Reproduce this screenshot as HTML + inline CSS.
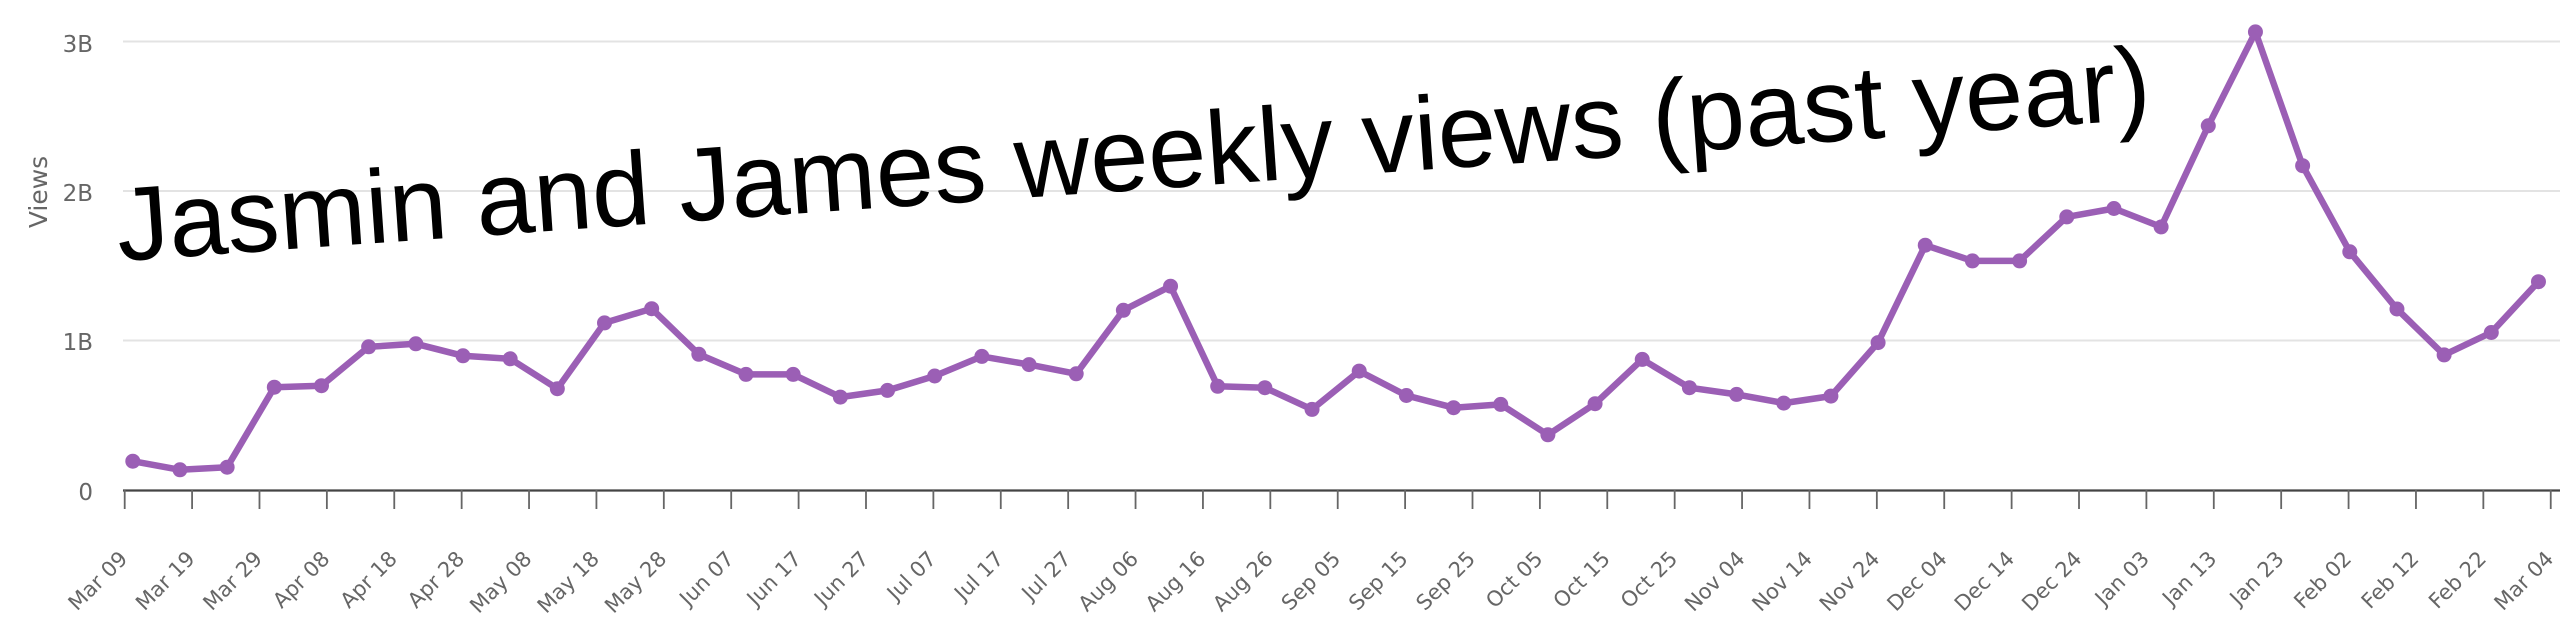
<!DOCTYPE html>
<html>
<head>
<meta charset="utf-8">
<style>
html,body{margin:0;padding:0;background:#fff;width:2560px;height:626px;overflow:hidden;}
svg{display:block;}
</style>
</head>
<body>
<svg width="2560" height="626" viewBox="0 0 2560 626" xmlns="http://www.w3.org/2000/svg">
<rect width="2560" height="626" fill="#fff"/>
<!-- grid -->
<g stroke="#e3e3e3" stroke-width="2">
<line x1="123" y1="41.5" x2="2560" y2="41.5"/>
<line x1="123" y1="191" x2="2560" y2="191"/>
<line x1="123" y1="340.5" x2="2560" y2="340.5"/>
</g>
<!-- y labels -->
<g font-family="'DejaVu Sans','Liberation Sans',sans-serif" font-size="23" fill="#666" text-anchor="end">
<text x="93" y="52">3B</text>
<text x="93" y="201">2B</text>
<text x="93" y="350">1B</text>
<text x="93" y="500">0</text>
</g>
<text transform="translate(47,192) rotate(-90)" text-anchor="middle" font-family="'DejaVu Sans','Liberation Sans',sans-serif" font-size="25" fill="#666">Views</text>
<!-- axis -->
<line x1="123" y1="490.5" x2="2560" y2="490.5" stroke="#444" stroke-width="2.2"/>
<path stroke="#666" stroke-width="1.8" fill="none" d="M124.7 490V509M192.09 490V509M259.48 490V509M326.87 490V509M394.26 490V509M461.65 490V509M529.04 490V509M596.43 490V509M663.82 490V509M731.21 490V509M798.6 490V509M865.99 490V509M933.38 490V509M1000.77 490V509M1068.16 490V509M1135.55 490V509M1202.94 490V509M1270.33 490V509M1337.72 490V509M1405.11 490V509M1472.5 490V509M1539.89 490V509M1607.28 490V509M1674.67 490V509M1742.06 490V509M1809.45 490V509M1876.84 490V509M1944.23 490V509M2011.62 490V509M2079.01 490V509M2146.4 490V509M2213.79 490V509M2281.18 490V509M2348.57 490V509M2415.96 490V509M2483.35 490V509M2550.74 490V509"/>
<!-- x labels -->
<g font-family="'DejaVu Sans','Liberation Sans',sans-serif" font-size="21" fill="#666" text-anchor="end">
<text transform="translate(128.7,560) rotate(-45)">Mar 09</text>
<text transform="translate(196.1,560) rotate(-45)">Mar 19</text>
<text transform="translate(263.5,560) rotate(-45)">Mar 29</text>
<text transform="translate(330.9,560) rotate(-45)">Apr 08</text>
<text transform="translate(398.3,560) rotate(-45)">Apr 18</text>
<text transform="translate(465.7,560) rotate(-45)">Apr 28</text>
<text transform="translate(533.0,560) rotate(-45)">May 08</text>
<text transform="translate(600.4,560) rotate(-45)">May 18</text>
<text transform="translate(667.8,560) rotate(-45)">May 28</text>
<text transform="translate(735.2,560) rotate(-45)">Jun 07</text>
<text transform="translate(802.6,560) rotate(-45)">Jun 17</text>
<text transform="translate(870.0,560) rotate(-45)">Jun 27</text>
<text transform="translate(937.4,560) rotate(-45)">Jul 07</text>
<text transform="translate(1004.8,560) rotate(-45)">Jul 17</text>
<text transform="translate(1072.2,560) rotate(-45)">Jul 27</text>
<text transform="translate(1139.6,560) rotate(-45)">Aug 06</text>
<text transform="translate(1206.9,560) rotate(-45)">Aug 16</text>
<text transform="translate(1274.3,560) rotate(-45)">Aug 26</text>
<text transform="translate(1341.7,560) rotate(-45)">Sep 05</text>
<text transform="translate(1409.1,560) rotate(-45)">Sep 15</text>
<text transform="translate(1476.5,560) rotate(-45)">Sep 25</text>
<text transform="translate(1543.9,560) rotate(-45)">Oct 05</text>
<text transform="translate(1611.3,560) rotate(-45)">Oct 15</text>
<text transform="translate(1678.7,560) rotate(-45)">Oct 25</text>
<text transform="translate(1746.1,560) rotate(-45)">Nov 04</text>
<text transform="translate(1813.5,560) rotate(-45)">Nov 14</text>
<text transform="translate(1880.8,560) rotate(-45)">Nov 24</text>
<text transform="translate(1948.2,560) rotate(-45)">Dec 04</text>
<text transform="translate(2015.6,560) rotate(-45)">Dec 14</text>
<text transform="translate(2083.0,560) rotate(-45)">Dec 24</text>
<text transform="translate(2150.4,560) rotate(-45)">Jan 03</text>
<text transform="translate(2217.8,560) rotate(-45)">Jan 13</text>
<text transform="translate(2285.2,560) rotate(-45)">Jan 23</text>
<text transform="translate(2352.6,560) rotate(-45)">Feb 02</text>
<text transform="translate(2420.0,560) rotate(-45)">Feb 12</text>
<text transform="translate(2487.4,560) rotate(-45)">Feb 22</text>
<text transform="translate(2554.7,560) rotate(-45)">Mar 04</text>
</g>
<!-- series -->
<polyline fill="none" stroke="#9b5fb5" stroke-width="6.5" stroke-linejoin="round" stroke-linecap="round" points="132.8,461.2 179.97,469.8 227.14,467.2 274.31,387.2 321.48,385.7 368.65,346.8 415.82,343.8 462.99,355.8 510.16,358.8 557.33,388.7 604.5,322.9 651.67,308.7 698.84,354.3 746.01,374.4 793.18,374.4 840.35,397.1 887.52,390.4 934.69,376.0 981.86,356.4 1029.03,364.6 1076.2,373.8 1123.37,310.3 1170.54,286.2 1217.71,386.3 1264.88,387.7 1312.05,409.4 1359.22,371.1 1406.39,395.5 1453.56,407.7 1500.73,404.4 1547.9,434.8 1595.07,403.7 1642.24,359.4 1689.41,387.7 1736.58,394.4 1783.75,403.1 1830.92,396.1 1878.09,342.6 1925.26,245.2 1972.43,260.9 2019.6,260.9 2066.77,216.9 2113.94,208.5 2161.11,226.9 2208.28,125.8 2255.45,31.9 2302.62,165.7 2349.79,251.8 2396.96,309.0 2444.13,354.9 2491.3,332.5 2538.47,281.7"/>
<g fill="#9b5fb5">
<circle cx="132.8" cy="461.2" r="7.5"/><circle cx="179.97" cy="469.8" r="7.5"/><circle cx="227.14" cy="467.2" r="7.5"/><circle cx="274.31" cy="387.2" r="7.5"/><circle cx="321.48" cy="385.7" r="7.5"/><circle cx="368.65" cy="346.8" r="7.5"/><circle cx="415.82" cy="343.8" r="7.5"/><circle cx="462.99" cy="355.8" r="7.5"/><circle cx="510.16" cy="358.8" r="7.5"/><circle cx="557.33" cy="388.7" r="7.5"/><circle cx="604.5" cy="322.9" r="7.5"/><circle cx="651.67" cy="308.7" r="7.5"/><circle cx="698.84" cy="354.3" r="7.5"/><circle cx="746.01" cy="374.4" r="7.5"/><circle cx="793.18" cy="374.4" r="7.5"/><circle cx="840.35" cy="397.1" r="7.5"/><circle cx="887.52" cy="390.4" r="7.5"/><circle cx="934.69" cy="376.0" r="7.5"/><circle cx="981.86" cy="356.4" r="7.5"/><circle cx="1029.03" cy="364.6" r="7.5"/><circle cx="1076.2" cy="373.8" r="7.5"/><circle cx="1123.37" cy="310.3" r="7.5"/><circle cx="1170.54" cy="286.2" r="7.5"/><circle cx="1217.71" cy="386.3" r="7.5"/><circle cx="1264.88" cy="387.7" r="7.5"/><circle cx="1312.05" cy="409.4" r="7.5"/><circle cx="1359.22" cy="371.1" r="7.5"/><circle cx="1406.39" cy="395.5" r="7.5"/><circle cx="1453.56" cy="407.7" r="7.5"/><circle cx="1500.73" cy="404.4" r="7.5"/><circle cx="1547.9" cy="434.8" r="7.5"/><circle cx="1595.07" cy="403.7" r="7.5"/><circle cx="1642.24" cy="359.4" r="7.5"/><circle cx="1689.41" cy="387.7" r="7.5"/><circle cx="1736.58" cy="394.4" r="7.5"/><circle cx="1783.75" cy="403.1" r="7.5"/><circle cx="1830.92" cy="396.1" r="7.5"/><circle cx="1878.09" cy="342.6" r="7.5"/><circle cx="1925.26" cy="245.2" r="7.5"/><circle cx="1972.43" cy="260.9" r="7.5"/><circle cx="2019.6" cy="260.9" r="7.5"/><circle cx="2066.77" cy="216.9" r="7.5"/><circle cx="2113.94" cy="208.5" r="7.5"/><circle cx="2161.11" cy="226.9" r="7.5"/><circle cx="2208.28" cy="125.8" r="7.5"/><circle cx="2255.45" cy="31.9" r="7.5"/><circle cx="2302.62" cy="165.7" r="7.5"/><circle cx="2349.79" cy="251.8" r="7.5"/><circle cx="2396.96" cy="309.0" r="7.5"/><circle cx="2444.13" cy="354.9" r="7.5"/><circle cx="2491.3" cy="332.5" r="7.5"/><circle cx="2538.47" cy="281.7" r="7.5"/>
</g>
<!-- title -->
<text transform="translate(119,261) rotate(-4)" font-family="'Liberation Sans',Arial,sans-serif" font-size="104.5" fill="#000">Jasmin and James weekly views (past year)</text>
</svg>
</body>
</html>
